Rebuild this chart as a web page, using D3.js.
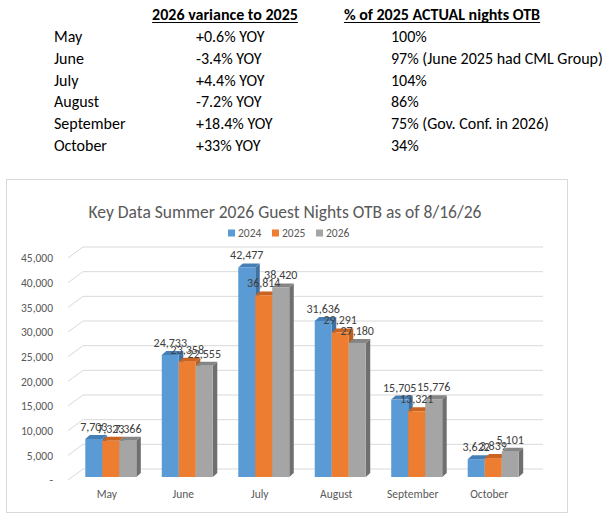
<!DOCTYPE html>
<html><head><meta charset="utf-8">
<script src="https://cdn.jsdelivr.net/npm/d3@7"></script>
<style>
html,body{margin:0;padding:0;background:#fff;}
svg{display:block;}
</style></head>
<body>
<svg id="chart" width="607" height="522"></svg>
<script>
// ---- data ----
const months = ["May","June","July","August","September","October"];
const years = ["2024","2025","2026"];
const v2024 = [7703,24733,42477,31636,15705,3622];
const v2025 = [7323,23358,36814,29291,13321,3839];
const v2026 = [7366,22555,38420,27180,15776,5101];
const yTicks = [0,5000,10000,15000,20000,25000,30000,35000,40000,45000];
const varianceHeader = "2026 variance to 2025";
const pctHeader = "% of 2025 ACTUAL nights OTB";
const variance = ["+0.6% YOY","-3.4% YOY","+4.4% YOY","-7.2% YOY","+18.4% YOY","+33% YOY"];
const pctOTB = ["100%","97% (June 2025 had CML Group)","104%","86%","75% (Gov. Conf. in 2026)","34%"];
const chartTitle = "Key Data Summer 2026 Guest Nights OTB as of 8/16/26";

const FONT = "Carlito, Calibri, Lato, 'Open Sans', sans-serif";
const colors = {"2024":"#5b9bd5","2025":"#ed7d31","2026":"#a5a5a5"};
const sideColors = {"2024":"#3f72a3","2025":"#b85f22","2026":"#6f6f6f"};
const topColors = {"2024":"#467fb5","2025":"#c9631f","2026":"#858585"};

const svg = d3.select("#chart").style("font-family", FONT);

// ---- table ----
const TFS = 16;
const tbl = svg.append("g");
const rowY = d3.scalePoint().domain(months).range([42,151]);
const heads = [{t:varianceHeader,x:225},{t:pctHeader,x:442}];
heads.forEach(h=>{
  const t = tbl.append("text").attr("x",h.x).attr("y",20).attr("text-anchor","middle")
    .attr("font-weight","bold").attr("font-size",TFS).text(h.t);
  const b = t.node().getBBox();
  tbl.append("line").attr("x1",b.x).attr("x2",b.x+b.width).attr("y1",22.5).attr("y2",22.5)
    .attr("stroke","#000").attr("stroke-width",1);
});
months.forEach((m,i)=>{
  tbl.append("text").attr("x",54).attr("y",rowY(m)).attr("font-size",TFS).text(m);
  tbl.append("text").attr("x",196).attr("y",rowY(m)).attr("font-size",TFS).text(variance[i]);
  tbl.append("text").attr("x",391).attr("y",rowY(m)).attr("font-size",TFS).text(pctOTB[i]);
});

// ---- chart frame ----
svg.append("rect").attr("x",6.5).attr("y",179.5).attr("width",561).attr("height",333)
  .attr("fill","#fff").attr("stroke","#d9d9d9").attr("stroke-width",1);

svg.append("text").attr("x",285).attr("y",218).attr("text-anchor","middle")
  .attr("font-size",17.5).attr("fill","#595959").text(chartTitle);

// legend
const leg = svg.append("g");
const legX = d3.scalePoint().domain(years).range([228,316]);
years.forEach(y=>{
  leg.append("rect").attr("x",legX(y)).attr("y",229.5).attr("width",7).attr("height",7).attr("fill",colors[y]);
  leg.append("text").attr("x",legX(y)+10).attr("y",237).attr("font-size",11.5).attr("fill","#595959").text(y);
});

// scales
const yBar = d3.scaleLinear().domain([0,45000]).range([477,255]);
const yLab = d3.scaleLinear().domain([0,45000]).range([480,258]);
const x0 = d3.scaleBand().domain(months).range([70,534]).paddingInner(0.333).paddingOuter(0.2);
const x1 = d3.scaleBand().domain(years).range([0,x0.bandwidth()]);
const DX=4.5, DY=-4;
const GDX=15, GDY=-11;

// gridlines
const grid = svg.append("g");
yTicks.forEach(t=>{
  const yf=yLab(t);
  grid.append("path").attr("d",`M68,${yf}L${68+GDX},${yf+GDY}L543,${yf+GDY}`)
    .attr("fill","none").attr("stroke","#d9d9d9").attr("stroke-width",1);
});

// y axis
const yAxis = svg.append("g").attr("transform","translate(58,0)")
  .call(d3.axisLeft(yLab).tickValues(yTicks).tickSize(0).tickPadding(5)
    .tickFormat(v=> v===0 ? "-" : d3.format(",")(v)));
yAxis.select(".domain").remove();
yAxis.selectAll("text").attr("font-family",FONT).attr("font-size",11.5).attr("fill","#595959");

// x axis
const xAxis = svg.append("g").attr("transform","translate(-4,490)")
  .call(d3.axisBottom(x0).tickSize(0).tickPadding(0));
xAxis.select(".domain").remove();
xAxis.selectAll("text").attr("font-family",FONT).attr("font-size",11.5).attr("fill","#595959");

// bars
const series = {"2024":v2024,"2025":v2025,"2026":v2026};
const bars = svg.append("g");
months.forEach((m,i)=>{
  years.forEach(yr=>{
    const v=series[yr][i];
    const x=x0(m)+x1(yr), w=x1.bandwidth();
    const yt=yBar(v), yb=yBar(0);
    const g=bars.append("g");
    g.append("path").attr("d",`M${x+w},${yt}L${x+w+DX},${yt+DY}L${x+w+DX},${yb+DY}L${x+w},${yb}Z`).attr("fill",sideColors[yr]);
    g.append("path").attr("d",`M${x},${yt}L${x+DX},${yt+DY}L${x+w+DX},${yt+DY}L${x+w},${yt}Z`).attr("fill",topColors[yr]);
    g.append("rect").attr("x",x).attr("y",yt).attr("width",w).attr("height",yb-yt).attr("fill",colors[yr]);
  });
});
// labels
const labs = svg.append("g");
months.forEach((m,i)=>{
  years.forEach(yr=>{
    const v=series[yr][i];
    const cx=x0(m)+x1(yr)+x1.bandwidth()/2;
    labs.append("text").attr("x",cx).attr("y",yBar(v)-8).attr("text-anchor","middle")
      .attr("font-size",12).attr("fill","#404040").text(d3.format(",")(v));
  });
});
</script>
</body></html>
